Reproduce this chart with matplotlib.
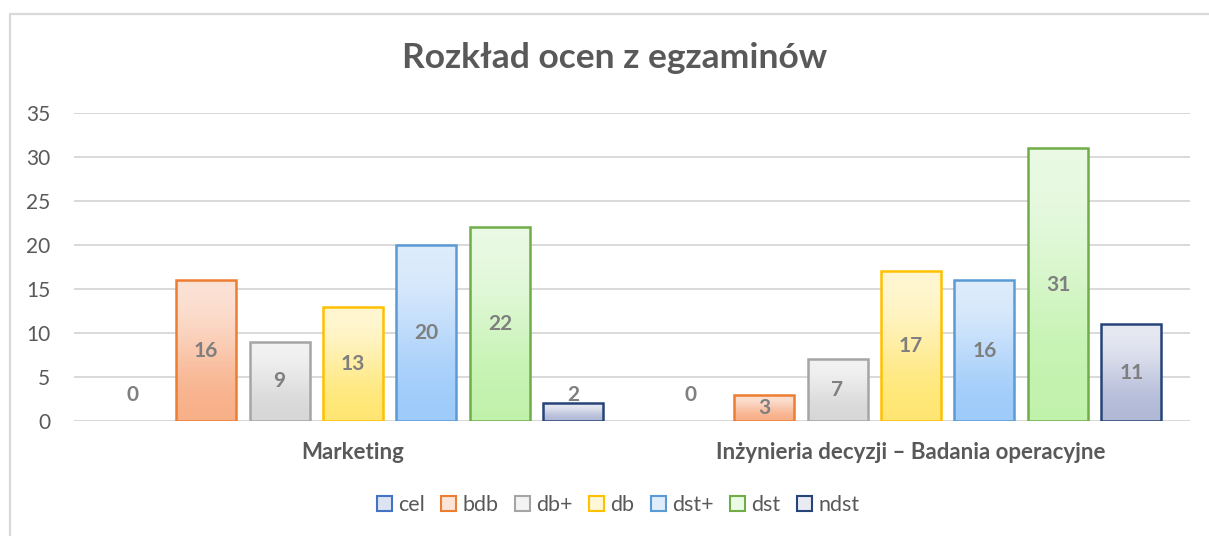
import numpy as np
import matplotlib.pyplot as plt
from matplotlib.patches import Patch, Rectangle
from matplotlib.colors import to_rgb

# ── data ─────────────────────────────────────────────────────────────────────
categories = ["Marketing", "Inżynieria decyzji – Badania operacyjne"]
grades = ["cel", "bdb", "db+", "db", "dst+", "dst", "ndst"]
cel = [0, 0]
bdb = [16, 3]
db_plus = [9, 7]
db = [13, 17]
dst_plus = [20, 16]
dst = [22, 31]
ndst = [2, 11]
series = [cel, bdb, db_plus, db, dst_plus, dst, ndst]

# border, gradient top, gradient bottom
edge_cols = ["#4472C4", "#ED7D31", "#A5A5A5", "#FFC000", "#5B9BD5", "#70AD47", "#264478"]
top_cols = ["#DCE4F4", "#FCE4D8", "#F3F3F3", "#FFF7D6", "#E0EDFC", "#EBFAE6", "#E9EBF3"]
bot_cols = ["#B4C6EC", "#F8AE86", "#D6D6D6", "#FFE670", "#9CCAFA", "#C0F2AA", "#AFB7D6"]

plt.rcParams["font.family"] = ["Lato", "DejaVu Sans"]
GREY = "#595959"
LABEL_GREY = "#7F7F7F"

fig = plt.figure(figsize=(12.09, 5.36), dpi=100)
W, H = 1209, 536
ax = fig.add_axes([74 / W, 1 - 421 / H, (1190 - 74) / W, (421 - 113) / H])

# chart frame (cropped on right/bottom in the reference)
fig.patches.append(Rectangle((10 / W, -0.2), 1.2, 1.2 - 14 / H,
                             transform=fig.transFigure, fill=False,
                             edgecolor="#D9D9D9", linewidth=1.6, clip_on=False))

n = len(series)
slot = 0.1317
width = 0.1075
x = np.arange(len(categories))

for i, vals in enumerate(series):
    pos = x + (i - (n - 1) / 2) * slot
    bars = ax.bar(pos, vals, width, facecolor="none", edgecolor=edge_cols[i],
                  linewidth=1.8, zorder=4)
    grad = np.array([[to_rgb(top_cols[i])], [to_rgb(bot_cols[i])]])
    for b, v in zip(bars, vals):
        if v > 0:
            im = ax.imshow(grad, extent=(b.get_x(), b.get_x() + b.get_width(), 0, v),
                           origin="upper", aspect="auto", interpolation="bicubic", zorder=3)
            im.set_clip_path(b)
        else:
            b.set_linewidth(0)
        ty = v / 2 if v >= 3 else 2.95
        ax.text(b.get_x() + b.get_width() / 2, ty, str(v), ha="center", va="center",
                fontsize=15, fontweight="bold", color=LABEL_GREY, zorder=5)

ax.set_xlim(-0.5, 1.5)
ax.set_ylim(0, 35)
ax.set_yticks(range(0, 36, 5))
ax.yaxis.grid(True, color="#D9D9D9", linewidth=1.4)
ax.set_axisbelow(True)
for s in ax.spines.values():
    s.set_visible(False)
ax.axhline(0, color="#D9D9D9", linewidth=1.4, zorder=2)
ax.tick_params(axis="y", length=0, pad=17, labelsize=15, labelcolor=GREY)
ax.tick_params(axis="x", length=0, pad=15, labelsize=16, labelcolor=GREY)
ax.set_xticks(x)
ax.set_xticklabels(categories, fontweight="bold")

fig.text(615 / W, 1 - 58 / H, "Rozkład ocen z egzaminów", ha="center", va="center",
         fontsize=25.5, fontweight="bold", color=GREY)

handles = [Patch(facecolor=top_cols[i], edgecolor=edge_cols[i], linewidth=1.5, label=g)
           for i, g in enumerate(grades)]
fig.legend(handles=handles, loc="center", bbox_to_anchor=(618 / W, 1 - 505 / H), ncol=7,
           frameon=False, fontsize=15.5, labelcolor=GREY, handlelength=0.7, handleheight=0.7,
           handletextpad=0.3, columnspacing=0.75)

fig.savefig("out.png", dpi=100)
